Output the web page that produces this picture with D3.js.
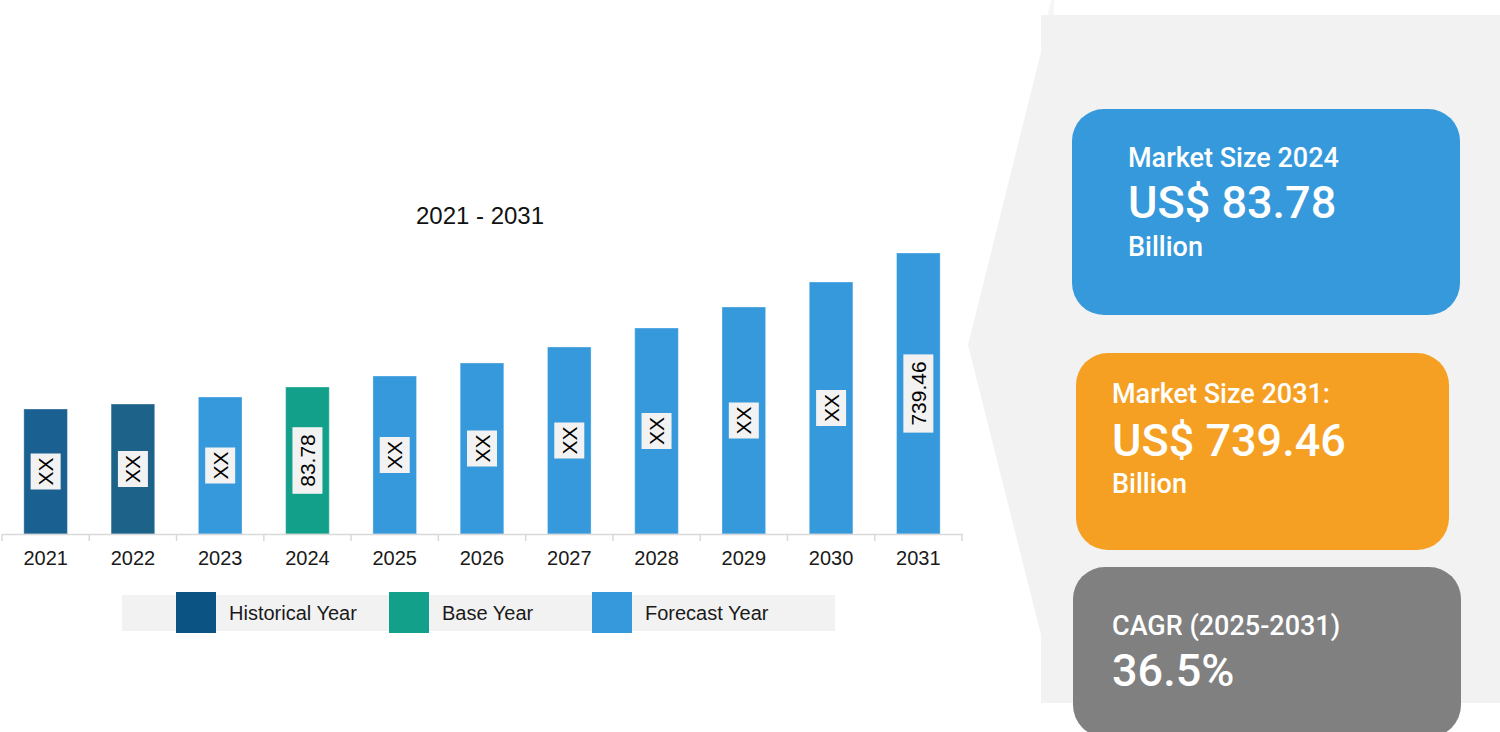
<!DOCTYPE html>
<html>
<head>
<meta charset="utf-8">
<script src="https://cdn.jsdelivr.net/npm/d3@7"></script>
<style>
  html, body { margin: 0; padding: 0; background: #ffffff; }
  svg { display: block; }
</style>
</head>
<body>
<svg id="chart" width="1500" height="732"></svg>
<script>
// ---------- DATA ----------
const years = ["2021","2022","2023","2024","2025","2026","2027","2028","2029","2030","2031"];
const barValues = [125, 130, 137, 147, 158, 171, 187, 206, 227, 252, 281];
const barLabels = ["XX","XX","XX","83.78","XX","XX","XX","XX","XX","XX","739.46"];
const barTypes = ["Historical","Historical2","Forecast","Base","Forecast","Forecast","Forecast","Forecast","Forecast","Forecast","Forecast"];
const chartTitle = "2021 - 2031";
const legendLabels = ["Historical Year", "Base Year", "Forecast Year"];
const cardTitles = ["Market Size 2024", "Market Size 2031:", "CAGR (2025-2031)"];
const cardValues = ["US$ 83.78", "US$ 739.46", "36.5%"];
const cardUnits = ["Billion", "Billion", ""];

// ---------- STYLE ----------
const barColor = {Historical: "#1a6192", Historical2: "#1d6289", Base: "#13a08a", Forecast: "#3599db"};
const legendColors = ["#0a5382", "#13a08a", "#3599db"];
const cardColors = ["#3599db", "#f5a023", "#808080"];
const FONT = "'Liberation Sans', Arial, sans-serif";
const CARD_FONT = "Roboto, 'Liberation Sans', sans-serif";

const svg = d3.select("#chart");

// ---------- RIGHT GREY PANEL ----------
svg.append("polygon")
  .attr("points", [[1041,15],[1500,15],[1500,703],[1041,703],[1041,635],[968,345],[1041,52]].map(p => p.join(",")).join(" "))
  .attr("fill", "#f2f2f2");
svg.append("polygon")
  .attr("points", "1048,15 1051,0 1054,0 1054,15")
  .attr("fill", "#f6f6f6");

// ---------- BAR CHART ----------
const baseY = 534;
const x = d3.scaleBand().domain(years).range([2, 962]).paddingInner(0.5).paddingOuter(0.25);
const y = d3.scaleLinear().domain([0, d3.max(barValues)]).range([baseY, 253]);

const data = years.map((yr, i) => ({year: yr, value: barValues[i], label: barLabels[i], type: barTypes[i]}));

svg.append("text")
  .attr("x", 480).attr("y", 224)
  .attr("text-anchor", "middle")
  .attr("font-family", FONT).attr("font-size", 24).attr("fill", "#111")
  .text(chartTitle);

svg.append("g").selectAll("rect").data(data).join("rect")
  .attr("x", d => x(d.year))
  .attr("y", d => y(d.value))
  .attr("width", x.bandwidth())
  .attr("height", d => baseY - y(d.value))
  .attr("fill", d => barColor[d.type])
  .attr("stroke", "#ffffff").attr("stroke-opacity", 0.35).attr("stroke-width", 1);

// axis
const axis = d3.axisBottom(x).tickSize(0).tickPadding(17);
const gAxis = svg.append("g").attr("transform", `translate(0,${baseY})`).call(axis);
gAxis.select(".domain").attr("stroke", "#d9d9d9").attr("stroke-width", 1.5);
gAxis.selectAll("text").attr("font-family", FONT).attr("font-size", 20).attr("fill", "#1a1a1a");
// boundary ticks
const step = x.step();
const bounds = years.map(yr => x(yr) - step * 0.25).concat([x(years[years.length - 1]) + x.bandwidth() + step * 0.25]);
gAxis.selectAll("line.bound").data(bounds).join("line")
  .attr("class", "bound")
  .attr("x1", d => d).attr("x2", d => d)
  .attr("y1", 0).attr("y2", 7)
  .attr("stroke", "#d9d9d9").attr("stroke-width", 1.5);

// value label boxes
const lbl = svg.append("g").selectAll("g").data(data).join("g")
  .attr("transform", d => `translate(${x(d.year) + x.bandwidth() / 2},${(y(d.value) + baseY) / 2}) rotate(-90)`);
lbl.append("rect").attr("fill", "#f2f2f2");
lbl.append("text")
  .attr("text-anchor", "middle").attr("dy", "0.36em")
  .attr("font-family", FONT).attr("font-size", 21).attr("fill", "#000")
  .text(d => d.label);
lbl.each(function() {
  const g = d3.select(this);
  const len = g.select("text").node().getComputedTextLength();
  const pad = len < 40 ? 4 : 7;
  g.select("rect").attr("x", -len / 2 - pad).attr("y", -15).attr("width", len + 2 * pad).attr("height", 30);
});

// ---------- LEGEND ----------
svg.append("rect").attr("x", 122).attr("y", 595).attr("width", 713).attr("height", 36).attr("fill", "#f2f2f2");
const legX = [176, 389, 592];
const leg = svg.append("g").selectAll("g").data(legendLabels).join("g")
  .attr("transform", (d, i) => `translate(${legX[i]},592)`);
leg.append("rect").attr("width", 40).attr("height", 41).attr("fill", (d, i) => legendColors[i]);
leg.append("text").attr("x", 53).attr("y", 28)
  .attr("font-family", FONT).attr("font-size", 20).attr("fill", "#1a1a1a")
  .text(d => d);

// ---------- SUMMARY CARDS ----------
const cards = [
  {x: 1072, y: 109, w: 388, h: 206, tx: 1128, tY: 167, vY: 218, uY: 256},
  {x: 1076, y: 353, w: 373, h: 197, tx: 1112, tY: 403, vY: 456, uY: 493},
  {x: 1073, y: 567, w: 388, h: 170, tx: 1112, tY: 635, vY: 686, uY: 0}
];
const cg = svg.append("g").selectAll("g").data(cards).join("g");
cg.append("rect")
  .attr("x", d => d.x).attr("y", d => d.y).attr("width", d => d.w).attr("height", d => d.h)
  .attr("rx", 32).attr("ry", 32)
  .attr("fill", (d, i) => cardColors[i]);
cg.append("text")
  .attr("x", d => d.tx).attr("y", d => d.tY)
  .attr("font-family", CARD_FONT).attr("font-weight", 500).attr("font-size", 27).attr("fill", "#fff")
  .text((d, i) => cardTitles[i]);
cg.append("text")
  .attr("x", d => d.tx).attr("y", d => d.vY)
  .attr("font-family", CARD_FONT).attr("font-weight", 500).attr("font-size", 45).attr("fill", "#fff")
  .text((d, i) => cardValues[i]);
cg.append("text")
  .attr("x", d => d.tx).attr("y", d => d.uY)
  .attr("font-family", CARD_FONT).attr("font-weight", 500).attr("font-size", 27).attr("fill", "#fff")
  .text((d, i) => cardUnits[i]);
</script>
</body>
</html>
